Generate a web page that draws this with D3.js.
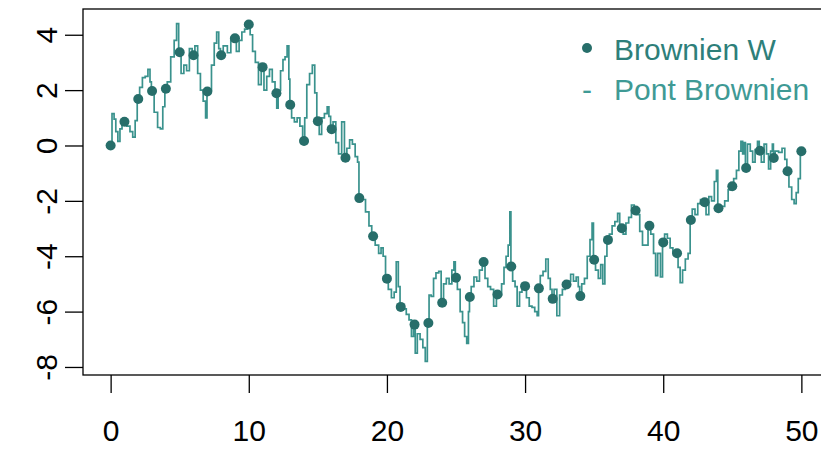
<!DOCTYPE html>
<html>
<head>
<meta charset="utf-8">
<script src="https://cdn.jsdelivr.net/npm/d3@7"></script>
<style>
  html, body { margin: 0; padding: 0; background: #ffffff; }
  svg { display: block; }
  text { font-family: "Liberation Sans", Arial, sans-serif; }
</style>
</head>
<body>
<svg id="chart" width="821" height="450"></svg>
<script>
// ---- data ----
const times = [0,1,2,3,4,5,6,7,8,9,10,11,12,13,14,15,16,17,18,19,20,21,22,23,24,25,26,27,28,29,30,31,32,33,34,35,36,37,38,39,40,41,42,43,44,45,46,47,48,49,50];
const brownW = [0, 0.86, 1.68, 1.97, 2.05, 3.37, 3.26, 1.95, 3.26, 3.87, 4.37, 2.83, 1.89, 1.47, 0.16, 0.88, 0.59, -0.44, -1.90, -3.28,
  -4.81, -5.83, -6.47, -6.41, -5.68, -4.78, -5.47, -4.21, -5.38, -4.37, -5.08, -5.16, -5.54, -5.02, -5.44, -4.13, -3.41, -2.99, -2.35, -2.90,
  -3.50, -3.89, -2.69, -2.05, -2.27, -1.47, -0.81, -0.19, -0.45, -0.93, -0.21];

const bridgeT = [0,0.2,0.3,0.45,0.6,0.75,0.9,1,1.3,1.5,1.7,1.85,2,2.2,2.4,2.6,2.8,2.9,3,3.3,3.5,3.7,3.85,4,4.2,4.5,4.7,4.85,5,
  5.2,5.4,5.6,5.8,6,6.2,6.4,6.6,6.8,6.95,7,7.2,7.4,7.6,7.75,7.9,8,8.3,8.6,8.8,9,9.2,9.4,9.6,9.8,10,
  10.2,10.35,10.6,10.8,11,11.2,11.4,11.6,11.8,12,12.05,12.2,12.4,12.55,12.7,12.85,12.95,13,13.2,13.4,13.6,13.8,14,
  14.1,14.3,14.5,14.7,14.85,15,15.2,15.35,15.6,15.75,15.85,16,16.2,16.4,16.6,16.85,17,17.2,17.4,17.6,17.8,17.95,18,
  18.3,18.6,18.8,19,19.3,19.5,19.65,19.8,20,20.2,20.45,20.6,20.75,20.9,21,21.3,21.5,21.7,21.85,22,22.1,22.3,22.5,22.7,22.85,23,
  23.1,23.3,23.45,23.65,23.85,24,24.2,24.4,24.6,24.8,24.9,25,25.2,25.4,25.55,25.7,25.85,25.95,26,26.2,26.4,26.6,26.8,27,
  27.2,27.4,27.6,27.85,28,28.2,28.4,28.55,28.7,28.85,28.95,29,29.2,29.35,29.5,29.7,29.85,30,30.2,30.4,30.6,30.8,30.95,31,
  31.2,31.4,31.6,31.75,31.9,32,32.2,32.4,32.6,32.8,33,33.2,33.4,33.6,33.8,33.9,34,34.2,34.4,34.6,34.8,34.9,35,
  35.2,35.4,35.55,35.7,35.85,36,36.2,36.4,36.6,36.8,36.9,37,37.2,37.4,37.6,37.8,38,38.2,38.4,38.6,38.8,39,
  39.2,39.4,39.5,39.7,39.9,40,40.2,40.4,40.6,40.8,41,41.15,41.3,41.5,41.7,41.9,42,42.2,42.4,42.6,42.8,43,
  43.2,43.4,43.6,43.8,43.9,44,44.3,44.6,44.8,45,45.2,45.4,45.55,45.7,45.8,45.9,46,46.2,46.4,46.55,46.75,46.9,47,
  47.2,47.4,47.55,47.7,47.85,47.95,48,48.2,48.5,48.7,48.9,49,49.2,49.4,49.55,49.7,49.85,50];
const bridgeV = [0,1.15,0.95,0.5,0.15,0.6,0.75,0.86,0.7,0.5,0.3,0.9,1.68,2.1,2.45,2.5,2.75,2.3,1.97,1.2,0.65,0.6,1.4,2.05,2.3,3.2,3.8,4.4,3.37,
  2.6,2.9,2.7,3.5,3.26,3.6,2.6,2.0,1.6,1.0,1.95,2.0,2.9,3.7,4.1,3.5,3.26,3.6,3.35,3.9,3.87,3.4,3.8,4.1,4.2,4.37,
  4.0,3.4,3.0,2.2,2.83,2.0,2.5,2.75,2.3,1.89,1.35,2.0,2.7,3.1,3.2,3.6,2.4,1.47,1.0,0.85,1.0,0.7,0.16,
  1.0,2.2,2.6,2.9,1.9,0.88,0.4,1.0,1.15,1.4,1.05,0.59,0.85,0.1,-0.3,0.85,-0.44,-0.1,0.2,0.05,-0.4,-0.6,-1.9,
  -1.95,-2.4,-2.9,-3.28,-3.6,-3.9,-3.7,-4.0,-4.81,-5.2,-5.5,-5.3,-4.2,-5.1,-5.83,-5.9,-6.1,-6.3,-6.9,-6.47,-7.5,-6.8,-7.0,-7.3,-7.8,-6.41,
  -5.4,-5.45,-4.8,-4.6,-4.55,-5.68,-5.0,-4.8,-5.0,-4.5,-4.2,-4.78,-5.2,-6.0,-6.4,-6.9,-7.15,-6.0,-5.47,-5.1,-4.75,-4.9,-4.5,-4.21,
  -4.8,-5.1,-5.2,-5.8,-5.38,-5.4,-5.0,-4.4,-4.0,-3.6,-2.4,-4.37,-4.9,-5.1,-5.8,-5.3,-5.1,-5.08,-5.5,-5.8,-5.85,-6.0,-6.15,-5.16,
  -4.7,-4.55,-4.1,-4.8,-5.2,-5.54,-5.2,-6.15,-5.4,-5.2,-5.02,-4.9,-4.65,-4.9,-4.75,-5.1,-5.44,-5.0,-4.8,-4.0,-3.4,-2.8,-4.13,
  -4.5,-4.8,-4.3,-5.0,-4.0,-3.41,-3.2,-2.9,-2.75,-2.45,-2.9,-2.99,-3.2,-2.8,-2.6,-2.15,-2.35,-2.5,-3.1,-3.6,-3.6,-2.90,
  -3.2,-3.9,-4.7,-3.9,-4.75,-3.50,-3.2,-3.35,-3.7,-3.85,-3.89,-4.4,-4.95,-4.5,-4.1,-3.9,-2.69,-2.3,-2.5,-2.1,-1.95,-2.05,
  -2.5,-1.85,-2.0,-1.3,-0.9,-2.27,-2.2,-2.0,-1.6,-1.47,-1.2,-0.9,-0.2,0.15,-0.3,0.1,-0.81,0.05,-0.2,-0.6,-0.15,0.15,-0.19,
  -0.6,0.05,-0.3,-0.85,-0.2,0.05,-0.45,-0.2,-0.25,-0.1,-0.5,-0.93,-1.5,-1.95,-2.1,-1.7,-1.2,-0.21];

const xTicks = [0, 10, 20, 30, 40, 50];
const yTicks = [-8, -6, -4, -2, 0, 2, 4];
const legendLabels = ["Brownien W", "Pont Brownien"];

// ---- layout ----
const box = { left: 83, top: 9, right: 829, bottom: 375 };
const colPoint = "#276e6a";
const colLine = "#3a928d";
const colLegend1 = "#2e7f7a";
const colLegend2 = "#3f9a95";
const fontSize = 30;

const svg = d3.select("#chart");
svg.append("rect").attr("width", 821).attr("height", 450).attr("fill", "#ffffff");

const x = d3.scaleLinear().domain([-2, 52]).range([box.left, box.right]);
const y = d3.scaleLinear().domain([-8.29, 4.93]).range([box.bottom, box.top]);

// bridge line
const line = d3.line()
  .x((d, i) => x(bridgeT[i]))
  .y((d, i) => y(bridgeV[i]))
  .curve(d3.curveStep);
svg.append("path")
  .attr("d", line(bridgeV))
  .attr("fill", "none")
  .attr("stroke", colLine)
  .attr("stroke-width", 1.7);

// points
svg.append("g").selectAll("circle")
  .data(brownW)
  .join("circle")
  .attr("cx", (d, i) => x(times[i]))
  .attr("cy", d => y(d))
  .attr("r", 5)
  .attr("fill", colPoint);

// box
svg.append("rect")
  .attr("x", box.left).attr("y", box.top)
  .attr("width", box.right - box.left).attr("height", box.bottom - box.top)
  .attr("fill", "none").attr("stroke", "#000").attr("stroke-width", 1.3);

// x axis
const gx = svg.append("g").attr("transform", `translate(0,${box.bottom})`)
  .call(d3.axisBottom(x).tickValues(xTicks).tickSize(18).tickPadding(27).tickFormat(d => String(d)));
gx.select(".domain").remove();
gx.selectAll("line").attr("stroke", "#000").attr("stroke-width", 1.3);
gx.selectAll("text").attr("font-size", fontSize).attr("fill", "#000")
  .attr("font-family", "Liberation Sans, Arial, sans-serif");

// y axis
const gy = svg.append("g").attr("transform", `translate(${box.left},0)`)
  .call(d3.axisLeft(y).tickValues(yTicks).tickSize(18).tickFormat(d => String(d)));
gy.select(".domain").remove();
gy.selectAll("line").attr("stroke", "#000").attr("stroke-width", 1.3);
gy.selectAll("text")
  .attr("x", null).attr("dy", null)
  .attr("text-anchor", "middle")
  .attr("transform", "translate(-26,0) rotate(-90)")
  .attr("font-size", fontSize).attr("fill", "#000")
  .attr("font-family", "Liberation Sans, Arial, sans-serif");

// legend
const lg = svg.append("g");
lg.append("circle").attr("cx", 587).attr("cy", 48).attr("r", 5).attr("fill", colPoint);
lg.append("text").attr("x", 587).attr("y", 100).attr("text-anchor", "middle")
  .attr("font-size", fontSize).attr("fill", colLegend2).text("-");
lg.append("text").attr("x", 614).attr("y", 60).attr("font-size", fontSize).attr("fill", colLegend1).text(legendLabels[0]);
lg.append("text").attr("x", 614).attr("y", 100).attr("font-size", fontSize).attr("fill", colLegend2).text(legendLabels[1]);
</script>
</body>
</html>
